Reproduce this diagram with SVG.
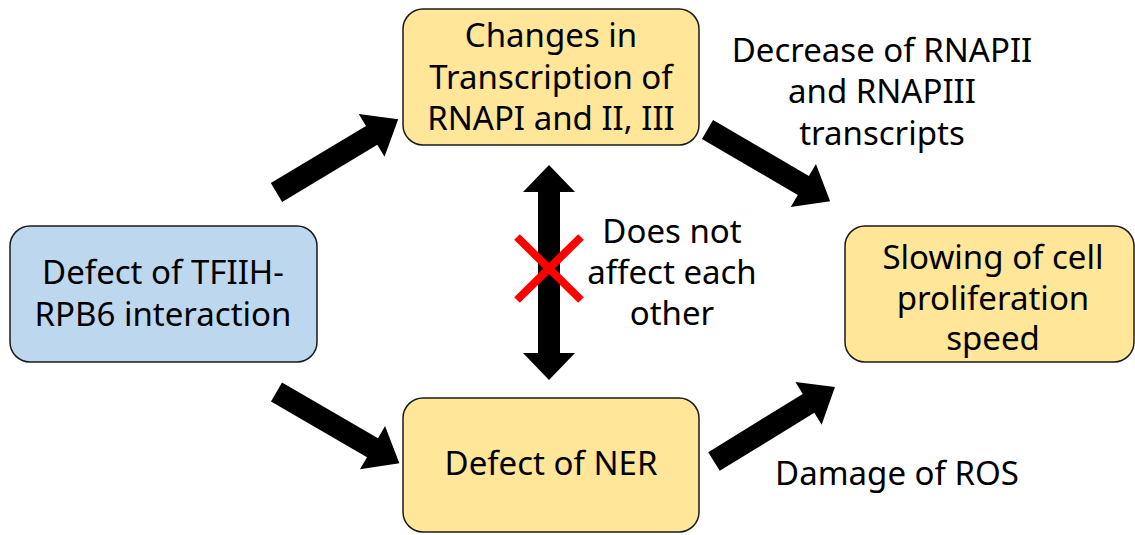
<svg xmlns="http://www.w3.org/2000/svg" width="1135" height="535" viewBox="0 0 1135 535">
<style>
.box{stroke:#1a1a1a;stroke-width:1.5}
.blue{fill:#BDD7EE}
.yellow{fill:#FFE699}
text{font-family:"Noto Sans","Open Sans","Liberation Sans",sans-serif;font-size:33px;fill:#000;text-anchor:middle}
.arr{fill:#000}
</style>
<defs>
<path id="blk" d="M0,-11 L111,-11 L111,-25 L142,0 L111,25 L111,11 L0,11 Z"/>
</defs>
<rect width="1135" height="535" fill="#fff"/>
<g id="connectors">
<use href="#blk" class="arr" transform="translate(276.5,192.5) rotate(-31)"/>
<use href="#blk" class="arr" transform="translate(707.5,129.5) rotate(30.3)"/>
<use href="#blk" class="arr" transform="translate(276.5,392) rotate(30.1)"/>
<use href="#blk" class="arr" transform="translate(714,461.5) rotate(-31.6)"/>
<path class="arr" d="M549,165 L575,192 L560,192 L560,353 L575,353 L549,380 L523,353 L538,353 L538,192 L523,192 Z"/>
</g>
<g id="cross">
<line x1="517" y1="237" x2="581" y2="300" stroke="#ff0000" stroke-width="8"/>
<line x1="581" y1="237" x2="517" y2="300" stroke="#ff0000" stroke-width="8"/>
</g>
<g id="node-transcription">
<rect class="box yellow" x="403" y="9" width="296" height="136" rx="20"/>
<text x="551" y="47">Changes in</text>
<text x="551" y="89">Transcription of</text>
<text x="551" y="130">RNAPI and II, III</text>
</g>
<g id="node-tfiih">
<rect class="box blue" x="10" y="226" width="307" height="136" rx="20"/>
<text x="163" y="284">Defect of TFIIH-</text>
<text x="163" y="326">RPB6 interaction</text>
</g>
<g id="node-ner">
<rect class="box yellow" x="403" y="398" width="296" height="134" rx="20"/>
<text x="551" y="475">Defect of NER</text>
</g>
<g id="node-slowing">
<rect class="box yellow" x="845" y="226" width="289" height="136" rx="20"/>
<text x="993" y="269">Slowing of cell</text>
<text x="993" y="310">proliferation</text>
<text x="993" y="350">speed</text>
</g>
<g id="labels">
<text x="882" y="62">Decrease of RNAPII</text>
<text x="882" y="103">and RNAPIII</text>
<text x="882" y="145">transcripts</text>
<text x="672" y="243">Does not</text>
<text x="672" y="284">affect each</text>
<text x="672" y="325">other</text>
<text x="897" y="485">Damage of ROS</text>
</g>
</svg>
